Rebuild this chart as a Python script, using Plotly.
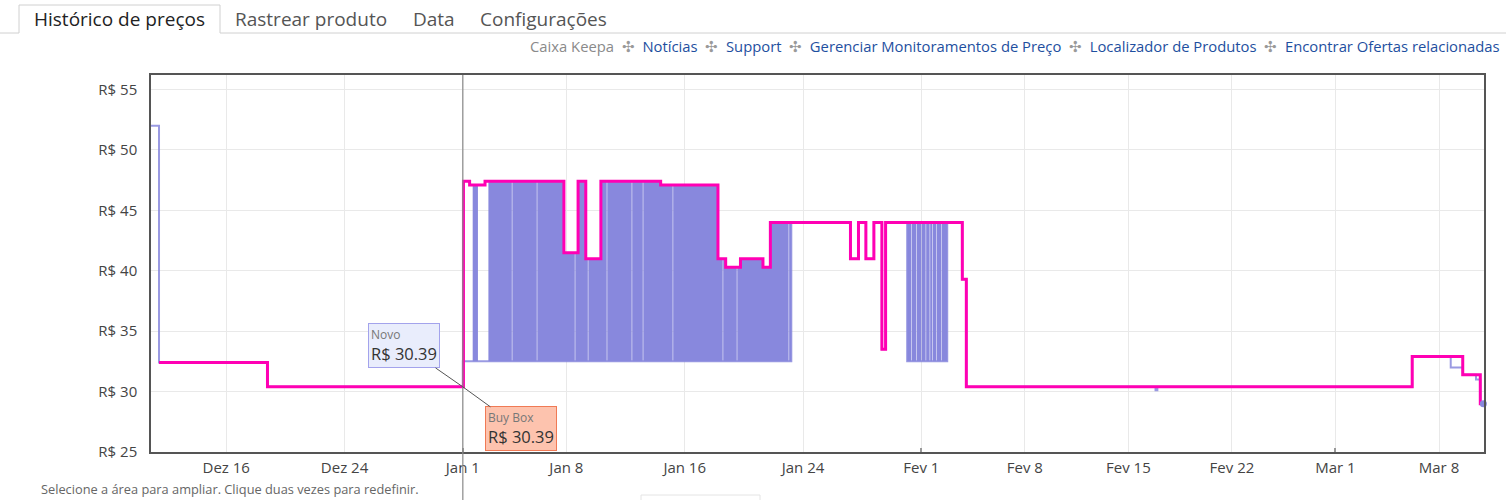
import plotly.graph_objects as go
import pandas as pd

# ---------------- data ----------------
buybox_dates = [
    "2022-12-11 11:00", "2022-12-18 19:00", "2023-01-01 01:00", "2023-01-01 11:00",
    "2023-01-02 12:00", "2023-01-07 20:00", "2023-01-08 19:00", "2023-01-09 07:30",
    "2023-01-10 08:00", "2023-01-14 09:00", "2023-01-18 06:00", "2023-01-18 18:30",
    "2023-01-19 18:30", "2023-01-21 07:00", "2023-01-21 19:00", "2023-01-27 05:00",
    "2023-01-27 18:00", "2023-01-28 06:00", "2023-01-28 19:00", "2023-01-29 08:00",
    "2023-01-29 14:00", "2023-02-03 18:30", "2023-02-04 01:00", "2023-03-06 04:30",
    "2023-03-09 14:30", "2023-03-10 19:00", "2023-03-11 00:00",
]
buybox_prices = [
    32.4, 30.39, 47.4, 47.1,
    47.4, 41.5, 47.4, 41.0,
    47.4, 47.1, 41.0, 40.3,
    41.0, 40.3, 44.0, 41.0,
    44.0, 41.0, 44.0, 33.5,
    44.0, 39.3, 30.39, 32.9,
    31.4, 29.0, 29.0,
]

novo_dates = [
    "2022-12-10 22:00", "2022-12-11 11:00", "2022-12-18 19:00", "2023-01-01 00:00",
    "2023-01-23 05:00", "2023-01-27 05:00", "2023-01-27 18:00", "2023-01-28 06:00",
    "2023-01-28 19:00", "2023-01-29 08:00", "2023-01-29 14:00", "2023-01-31 01:00",
    "2023-02-02 18:00", "2023-02-03 18:30", "2023-02-04 01:00", "2023-02-16 20:00",
    "2023-02-16 23:00", "2023-03-06 04:30", "2023-03-08 19:00", "2023-03-09 14:30",
    "2023-03-10 12:00", "2023-03-10 19:00", "2023-03-11 00:00",
]
novo_prices = [
    52.0, 32.4, 30.39, 32.5,
    44.0, 41.0, 44.0, 41.0,
    44.0, 33.5, 44.0, 32.5,
    44.0, 39.3, 30.39, 30.1,
    30.39, 32.9, 32.0, 31.4,
    31.0, 29.0, 29.0,
]

# periods where the "Novo" offer flips rapidly between its low price and the Buy Box price
novo_band_starts = ["2023-01-01 16:00", "2023-01-02 17:30", "2023-01-31 01:00"]
novo_band_ends = ["2023-01-02 00:30", "2023-01-23 05:00", "2023-02-02 18:00"]
novo_band_low = 32.5
novo_band_gaps = [
    "2023-01-04 07:30", "2023-01-06 00:00", "2023-01-08 13:40", "2023-01-09 10:50",
    "2023-01-10 17:30", "2023-01-12 10:00", "2023-01-13 04:00", "2023-01-15 04:30",
    "2023-01-18 13:40", "2023-01-19 12:30", "2023-01-23 00:40",
    "2023-01-31 08:00", "2023-01-31 16:00", "2023-02-01 00:00", "2023-02-01 07:00",
    "2023-02-01 13:30", "2023-02-01 18:00", "2023-02-02 00:15", "2023-02-02 08:30",
]

hover_date = "2023-01-01 00:00"
hover_novo = 30.39
hover_buybox = 30.39

x_tick_dates = ["2022-12-16", "2022-12-24", "2023-01-01", "2023-01-08", "2023-01-16",
                "2023-01-24", "2023-02-01", "2023-02-08", "2023-02-15", "2023-02-22",
                "2023-03-01", "2023-03-08"]
x_tick_labels = ["Dez 16", "Dez 24", "Jan 1", "Jan 8", "Jan 16", "Jan 24", "Fev 1",
                 "Fev 8", "Fev 15", "Fev 22", "Mar 1", "Mar 8"]
month_starts = ["2023-01-01", "2023-02-01", "2023-03-01"]
y_tick_values = [25, 30, 35, 40, 45, 50, 55]
y_tick_labels = ["R$ 25", "R$ 30", "R$ 35", "R$ 40", "R$ 45", "R$ 50", "R$ 55"]

tabs = ["Histórico de preços", "Rastrear produto", "Data", "Configurações"]
links = ["Notícias", "Support", "Gerenciar Monitoramentos de Preço",
         "Localizador de Produtos", "Encontrar Ofertas relacionadas"]

# ---------------- styling ----------------
NEW_COLOR = "#8888dd"
BB_COLOR = "#ff00b4"
FONT = "Open Sans"
W, H = 1506, 500
L, R, T, B = 151, 22, 75, 48
PW, PH = W - L - R, H - T - B


def px(x):
    return (x - L) / PW


def py(y):
    return (H - B - y) / PH


bb = pd.Series(buybox_prices, index=pd.to_datetime(buybox_dates))


def bb_at(t):
    s = bb[bb.index <= t]
    return s.iloc[-1] if len(s) else bb.iloc[0]


# build the filled polygons of the rapid-flip periods
gap = pd.Timedelta(minutes=50)
gaps = pd.to_datetime(novo_band_gaps)
fx, fy = [], []
for s0, e0 in zip(pd.to_datetime(novo_band_starts), pd.to_datetime(novo_band_ends)):
    cuts = [g for g in gaps if s0 < g < e0]
    pieces = []
    a = s0
    for g in cuts:
        pieces.append((a, g))
        a = g + gap
    pieces.append((a, e0))
    for a, b in pieces:
        xs, ys = [a], [bb_at(a)]
        for t in bb.index:
            if a < t < b:
                xs += [t, t]
                ys += [bb_at(t - pd.Timedelta(seconds=1)), bb_at(t)]
        xs += [b, b, a]
        ys += [bb_at(b - pd.Timedelta(seconds=1)), novo_band_low, novo_band_low]
        fx += xs + [None]
        fy += ys + [None]

fig = go.Figure()
fig.add_trace(go.Scatter(x=fx, y=fy, mode="lines", fill="toself", fillcolor=NEW_COLOR,
                         line=dict(width=0), hoverinfo="skip", showlegend=False))
fig.add_trace(go.Scatter(x=pd.to_datetime(novo_dates), y=novo_prices, mode="lines",
                         line=dict(color="rgba(136,136,221,0.85)", width=2, shape="hv"),
                         hoverinfo="skip", showlegend=False))
fig.add_trace(go.Scatter(x=pd.to_datetime(buybox_dates), y=buybox_prices, mode="lines",
                         line=dict(color=BB_COLOR, width=3, shape="hv"),
                         hoverinfo="skip", showlegend=False))
fig.add_trace(go.Scatter(x=[pd.to_datetime(novo_dates[-1])], y=[novo_prices[-1]], mode="markers",
                         marker=dict(color=NEW_COLOR, size=7), hoverinfo="skip", showlegend=False,
                         cliponaxis=False))

shapes = []
# crosshair
shapes.append(dict(type="line", xref="x", yref="paper", x0=hover_date, x1=hover_date,
                   y0=py(H), y1=1, line=dict(color="#8a8a8a", width=1.2), layer="above"))
# tab bar
tab_line = "#d0d0d0"
shapes.append(dict(type="line", xref="paper", yref="paper", x0=px(0), x1=px(19),
                   y0=py(33), y1=py(33), line=dict(color=tab_line, width=1)))
shapes.append(dict(type="line", xref="paper", yref="paper", x0=px(220), x1=px(W),
                   y0=py(33), y1=py(33), line=dict(color=tab_line, width=1)))
shapes.append(dict(type="path", xref="paper", yref="paper",
                   path=f"M {px(19)} {py(33)} L {px(19)} {py(5)} L {px(220)} {py(5)} L {px(220)} {py(33)}",
                   line=dict(color=tab_line, width=1)))
# partially visible box at the bottom
shapes.append(dict(type="rect", xref="paper", yref="paper", x0=px(641), x1=px(760),
                   y0=py(503), y1=py(495), fillcolor="white", line=dict(color="#e4e4e4", width=1)))

annotations = []
tab_x = [33, 234, 412, 479]
for i, (t, x) in enumerate(zip(tabs, tab_x)):
    annotations.append(dict(xref="paper", yref="paper", x=px(x), y=py(19), xanchor="left",
                            yanchor="middle", showarrow=False, text=t, borderpad=0,
                            font=dict(family=FONT, size=19, color="#222" if i == 0 else "#555")))

sep = '<span style="color:#9a9a9a">  ✣  </span>'
link_text = '<span style="color:#8a8a8a">Caixa Keepa</span>' + "".join(
    sep + f'<span style="color:#1e4fa0">{l}</span>' for l in links)
annotations.append(dict(xref="paper", yref="paper", x=px(1501), y=py(46), xanchor="right",
                        yanchor="middle", showarrow=False, text=link_text, borderpad=0,
                        font=dict(family=FONT, size=14.8)))
annotations.append(dict(xref="paper", yref="paper", x=px(40), y=py(488.5), xanchor="left",
                        yanchor="middle", showarrow=False, borderpad=0,
                        text="Selecione a área para ampliar. Clique duas vezes para redefinir.",
                        font=dict(family=FONT, size=12.8, color="#666")))

# tooltips
annotations.append(dict(x=hover_date, y=hover_novo, xref="x", yref="y", showarrow=True,
                        arrowhead=0, arrowwidth=1, arrowcolor="#555", ax=-59, ay=-41,
                        align="left", bgcolor="#e9edfc", bordercolor="#a3a3ec", borderwidth=1,
                        borderpad=2,
                        text=f'<span style="font-size:12px;color:#777">Novo</span><br>'
                             f'<span style="font-size:16.5px;color:#333">R$ {hover_novo:.2f}</span>',
                        font=dict(family=FONT, size=16)))
annotations.append(dict(x=hover_date, y=hover_buybox, xref="x", yref="y", showarrow=True,
                        arrowhead=0, arrowwidth=1, arrowcolor="#555", ax=58, ay=42,
                        align="left", bgcolor="#fdc3ae", bordercolor="#f07a55", borderwidth=1,
                        borderpad=2,
                        text=f'<span style="font-size:12px;color:#777">Buy Box</span><br>'
                             f'<span style="font-size:16.5px;color:#333">R$ {hover_buybox:.2f}</span>',
                        font=dict(family=FONT, size=16)))

fig.update_layout(
    width=W, height=H, margin=dict(l=L, r=R, t=T, b=B),
    paper_bgcolor="white", plot_bgcolor="white",
    font=dict(family=FONT, color="#444"),
    shapes=shapes, annotations=annotations, showlegend=False, hovermode=False,
    xaxis=dict(type="date", range=["2022-12-10 22:00", "2023-03-11 01:00"],
               tickmode="array", tickvals=x_tick_dates, ticktext=x_tick_labels,
               showgrid=True, gridcolor="#e9e9e9", gridwidth=1,
               showline=True, linecolor="#555", linewidth=1.5, mirror=True,
               ticks="", ticklabelstandoff=1, tickfont=dict(size=15, color="#444"),
               minor=dict(tickmode="array", tickvals=month_starts, ticks="inside",
                          ticklen=4, tickwidth=2, tickcolor="#999", showgrid=False),
               zeroline=False, fixedrange=True),
    yaxis=dict(range=[25, 56.2], tickmode="array", tickvals=y_tick_values,
               ticktext=y_tick_labels, showgrid=True, gridcolor="#e9e9e9", gridwidth=1,
               showline=True, linecolor="#555", linewidth=1.5, mirror=True,
               ticks="", ticklabelstandoff=9, tickfont=dict(size=15, color="#444"),
               zeroline=False, fixedrange=True),
)

fig.write_html("out.html")
